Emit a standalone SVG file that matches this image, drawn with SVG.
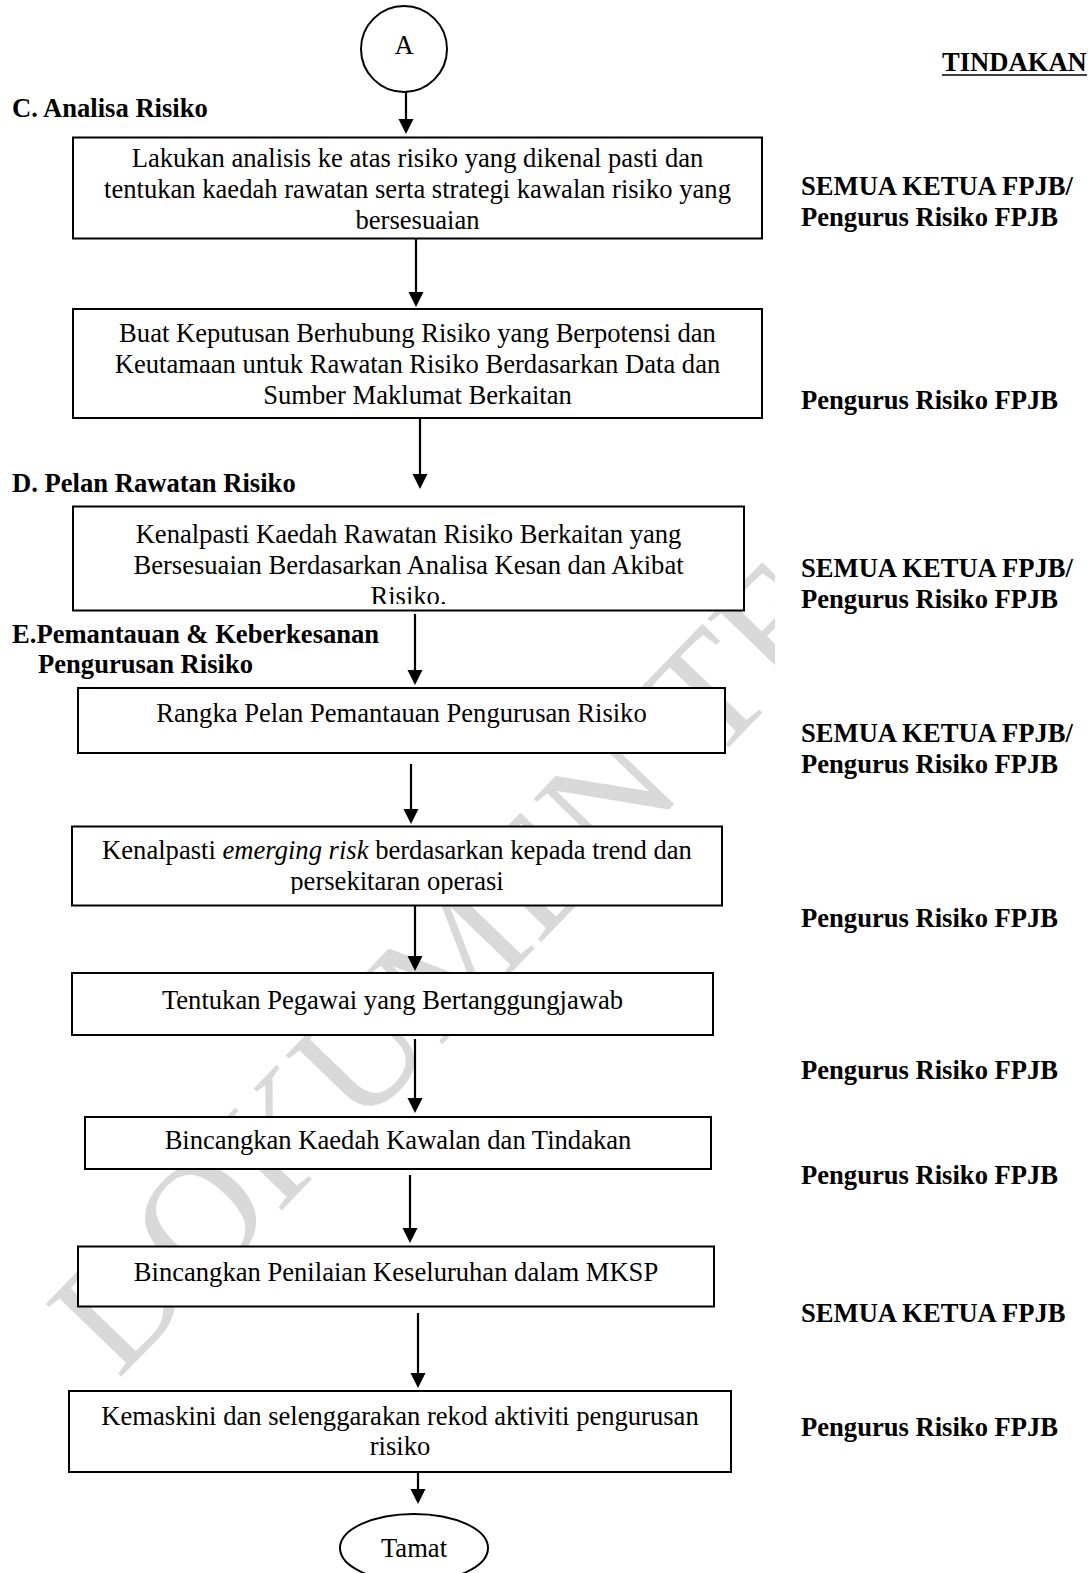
<svg xmlns="http://www.w3.org/2000/svg" width="1091" height="1573" viewBox="0 0 1091 1573">
<style>
.t{font-family:"Liberation Serif","Times New Roman",serif;font-size:26.6px;fill:#000}
.b{font-weight:bold}
.c{text-anchor:middle}
.box{fill:#fff;stroke:#000;stroke-width:2}
.ln{fill:none;stroke:#000;stroke-width:2.2}
.wm{font-family:"Liberation Serif","Times New Roman",serif;font-size:160px;fill:#d9d9d9}
</style>
<defs>
<marker id="ah" markerUnits="userSpaceOnUse" markerWidth="16" markerHeight="16" refX="0" refY="7.5" orient="auto"><path d="M0,0 L15,7.5 L0,15 z" fill="#000"/></marker>
<clipPath id="wmclip"><rect x="0" y="0" width="775" height="1573"/></clipPath>
<clipPath id="clip3"><rect x="73" y="506" width="671" height="98"/></clipPath>
<clipPath id="clip5"><rect x="72" y="826" width="650" height="68"/></clipPath>
</defs>
<rect width="1091" height="1573" fill="#fff"/>
<g id="watermark" clip-path="url(#wmclip)">
<text class="wm" transform="translate(118,1380) rotate(-46)">DOKUMEN TE</text>
</g>
<g id="connectors">
<path class="ln" d="M406,92 V119" marker-end="url(#ah)"/>
<path class="ln" d="M416,239 V292" marker-end="url(#ah)"/>
<path class="ln" d="M420,418 V474" marker-end="url(#ah)"/>
<path class="ln" d="M415,614 V670" marker-end="url(#ah)"/>
<path class="ln" d="M411,764 V809" marker-end="url(#ah)"/>
<path class="ln" d="M415,906 V956" marker-end="url(#ah)"/>
<path class="ln" d="M415,1039 V1098" marker-end="url(#ah)"/>
<path class="ln" d="M410,1175 V1228" marker-end="url(#ah)"/>
<path class="ln" d="M418,1313 V1373" marker-end="url(#ah)"/>
<path class="ln" d="M418,1472 V1489" marker-end="url(#ah)"/>
</g>
<g id="start">
<circle cx="404" cy="49" r="43" fill="#fff" stroke="#000" stroke-width="2"/>
<text class="t c" x="404" y="54">A</text>
</g>
<g id="header">
<text class="t b" x="942" y="71">TINDAKAN</text>
<line x1="942" y1="75" x2="1087" y2="75" stroke="#000" stroke-width="1.5"/>
</g>
<g id="sectionC"><text class="t b" x="12" y="116.5">C. Analisa Risiko</text></g>
<g id="sectionD"><text class="t b" x="12" y="491.5">D. Pelan Rawatan Risiko</text></g>
<g id="sectionE"><text class="t b" x="12" y="643">E.Pemantauan &amp; Keberkesanan</text><text class="t b" x="38" y="673">Pengurusan Risiko</text></g>
<g id="n1">
<rect class="box" x="73" y="137.5" width="689" height="101"/>
<text class="t c" x="417.5" y="167">Lakukan analisis ke atas risiko yang dikenal pasti dan</text>
<text class="t c" x="417.5" y="198">tentukan kaedah rawatan serta strategi kawalan risiko yang</text>
<text class="t c" x="417.5" y="229">bersesuaian</text>
</g>
<g id="n2">
<rect class="box" x="73" y="309" width="689" height="109"/>
<text class="t c" x="417.5" y="342">Buat Keputusan Berhubung Risiko yang Berpotensi dan</text>
<text class="t c" x="417.5" y="373">Keutamaan untuk Rawatan Risiko Berdasarkan Data dan</text>
<text class="t c" x="417.5" y="404">Sumber Maklumat Berkaitan</text>
</g>
<g id="n3">
<rect class="box" x="73" y="506.5" width="671" height="104"/>
<g clip-path="url(#clip3)">
<text class="t c" x="408.5" y="543">Kenalpasti Kaedah Rawatan Risiko Berkaitan yang</text>
<text class="t c" x="408.5" y="574">Bersesuaian Berdasarkan Analisa Kesan dan Akibat</text>
<text class="t c" x="408.5" y="605">Risiko.</text>
</g>
</g>
<g id="n4">
<rect class="box" x="78" y="688" width="647" height="65"/>
<text class="t c" x="401.5" y="722">Rangka Pelan Pemantauan Pengurusan Risiko</text>
</g>
<g id="n5">
<rect class="box" x="72" y="826.5" width="650" height="79"/>
<g clip-path="url(#clip5)">
<text class="t c" x="397" y="859">Kenalpasti <tspan font-style="italic">emerging risk</tspan> berdasarkan kepada trend dan</text>
<text class="t c" x="397" y="890">persekitaran operasi</text>
</g>
</g>
<g id="n6">
<rect class="box" x="72" y="973" width="641" height="62"/>
<text class="t c" x="392.5" y="1009">Tentukan Pegawai yang Bertanggungjawab</text>
</g>
<g id="n7">
<rect class="box" x="85" y="1117" width="626" height="52"/>
<text class="t c" x="398" y="1149">Bincangkan Kaedah Kawalan dan Tindakan</text>
</g>
<g id="n8">
<rect class="box" x="78" y="1246.5" width="636" height="60"/>
<text class="t c" x="396" y="1281">Bincangkan Penilaian Keseluruhan dalam MKSP</text>
</g>
<g id="n9">
<rect class="box" x="69" y="1391" width="662" height="81"/>
<text class="t c" x="400" y="1425">Kemaskini dan selenggarakan rekod aktiviti pengurusan</text>
<text class="t c" x="400" y="1455">risiko</text>
</g>
<g id="end">
<ellipse cx="414" cy="1548" rx="74" ry="34" fill="#fff" stroke="#000" stroke-width="2"/>
<text class="t c" x="414" y="1557">Tamat</text>
</g>
<g id="labels">
<text class="t b" x="801" y="194.5">SEMUA KETUA FPJB/</text>
<text class="t b" x="801" y="225.5">Pengurus Risiko FPJB</text>
<text class="t b" x="801" y="409">Pengurus Risiko FPJB</text>
<text class="t b" x="801" y="576.5">SEMUA KETUA FPJB/</text>
<text class="t b" x="801" y="607.5">Pengurus Risiko FPJB</text>
<text class="t b" x="801" y="742">SEMUA KETUA FPJB/</text>
<text class="t b" x="801" y="773">Pengurus Risiko FPJB</text>
<text class="t b" x="801" y="926.5">Pengurus Risiko FPJB</text>
<text class="t b" x="801" y="1079">Pengurus Risiko FPJB</text>
<text class="t b" x="801" y="1184">Pengurus Risiko FPJB</text>
<text class="t b" x="801" y="1321.5">SEMUA KETUA FPJB</text>
<text class="t b" x="801" y="1436">Pengurus Risiko FPJB</text>
</g>
</svg>
